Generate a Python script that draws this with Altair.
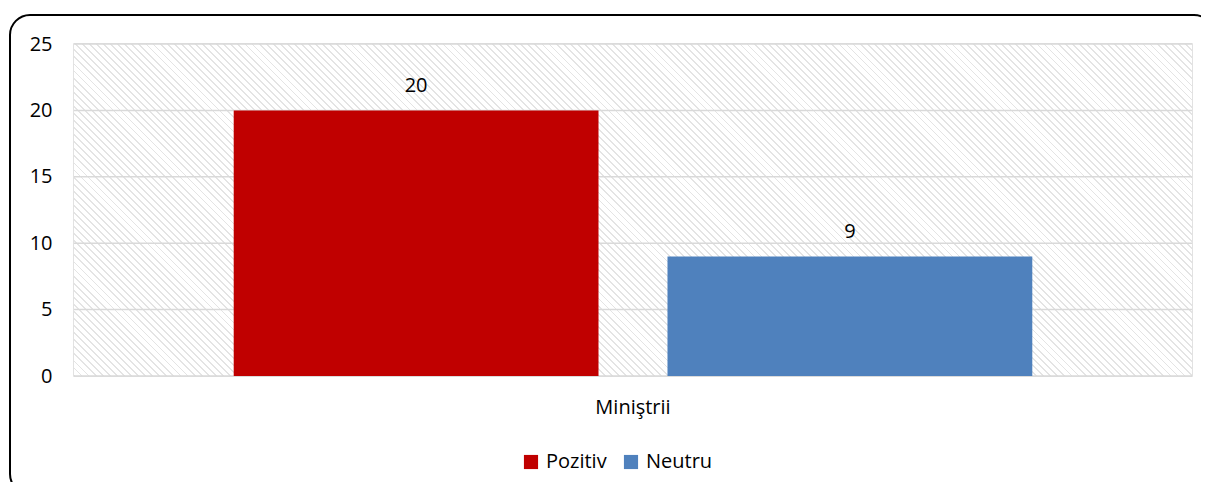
import math
import altair as alt
import pandas as pd

categories = ["Miniştrii"]
series = ["Pozitiv", "Neutru"]
values = [20, 9]
colors = ["#C00000", "#4F81BD"]
y_ticks = [0, 5, 10, 15, 20, 25]

df = pd.DataFrame({
    "group": [categories[0]] * len(series),
    "series": series,
    "value": values,
})
ticks_df = pd.DataFrame({"tick": y_ticks})

W, H = 1118, 332
FONT = "Open Sans"
FS = 20

# diagonal hatch gradient for the plot background (decorative)
s = (W + H) / (W * W + H * H)
L = (W + H) / math.sqrt(2)
period, lw = 5.0, 1.3
stops = []
t = 0.0
while t < L:
    a = t / L
    b = min((t + lw) / L, 1.0)
    stops += [
        {"offset": a, "color": "#ffffff"},
        {"offset": a, "color": "#e4e4e4"},
        {"offset": b, "color": "#e4e4e4"},
        {"offset": b, "color": "#ffffff"},
    ]
    t += period
hatch = alt.Gradient(gradient="linear", x1=0, y1=1, x2=s * W, y2=1 - s * H, stops=stops)

one = alt.Data(values=[{"k": 1}])

bg = alt.Chart(one).mark_rect(fill=hatch, strokeWidth=0).encode(
    x=alt.value(0), x2=alt.value(W), y=alt.value(0), y2=alt.value(H)
)

border = alt.Chart(one).mark_rect(
    fill=None, stroke="black", strokeWidth=2, cornerRadius=20, clip=False
).encode(x=alt.value(-64), x2=alt.value(1140), y=alt.value(-29), y2=alt.value(450))

yscale = alt.Scale(domain=[0, 25])
yaxis = alt.Axis(title=None, values=y_ticks, ticks=False, domain=False, grid=False,
                 labelPadding=22, labelFontSize=FS, labelFont=FONT, labelColor="#000000")

grid = alt.Chart(ticks_df).mark_rule(color="#d9d9d9", strokeWidth=1.5).encode(
    y=alt.Y("tick:Q", scale=yscale, axis=yaxis)
)

base = alt.Chart(df).encode(
    x=alt.X(
        "group:N",
        scale=alt.Scale(paddingOuter=0.2, paddingInner=0),
        axis=alt.Axis(title=None, labelAngle=0, ticks=False, domain=False,
                      labelPadding=21, labelFontSize=FS, labelFont=FONT, labelColor="#000000"),
    ),
    xOffset=alt.XOffset("series:N", sort=series,
                        scale=alt.Scale(paddingInner=0.159, paddingOuter=0)),
    y=alt.Y("value:Q", scale=yscale, axis=yaxis),
)

bars = base.mark_bar().encode(
    color=alt.Color(
        "series:N",
        sort=series,
        scale=alt.Scale(domain=series, range=colors),
        legend=alt.Legend(
            title=None, orient="none", direction="horizontal",
            legendX=447, legendY=408, symbolType="square", symbolSize=200,
            symbolStrokeWidth=0, labelFontSize=FS, labelFont=FONT, labelColor="#000000",
            columnPadding=14, labelOffset=5,
        ),
    )
)

labels = base.mark_text(baseline="bottom", dy=-14, fontSize=FS, font=FONT, color="#000000").encode(
    text=alt.Text("value:Q")
)

chart = alt.layer(bg, border, grid, bars, labels).properties(
    width=W,
    height=H,
    autosize=alt.AutoSizeParams(type="none"),
    padding={"left": 66, "top": 36, "right": 9, "bottom": 106},
).configure_view(stroke="#d9d9d9", strokeWidth=1.5)

chart.save("out.html", embed_options={"renderer": "svg", "actions": False})
